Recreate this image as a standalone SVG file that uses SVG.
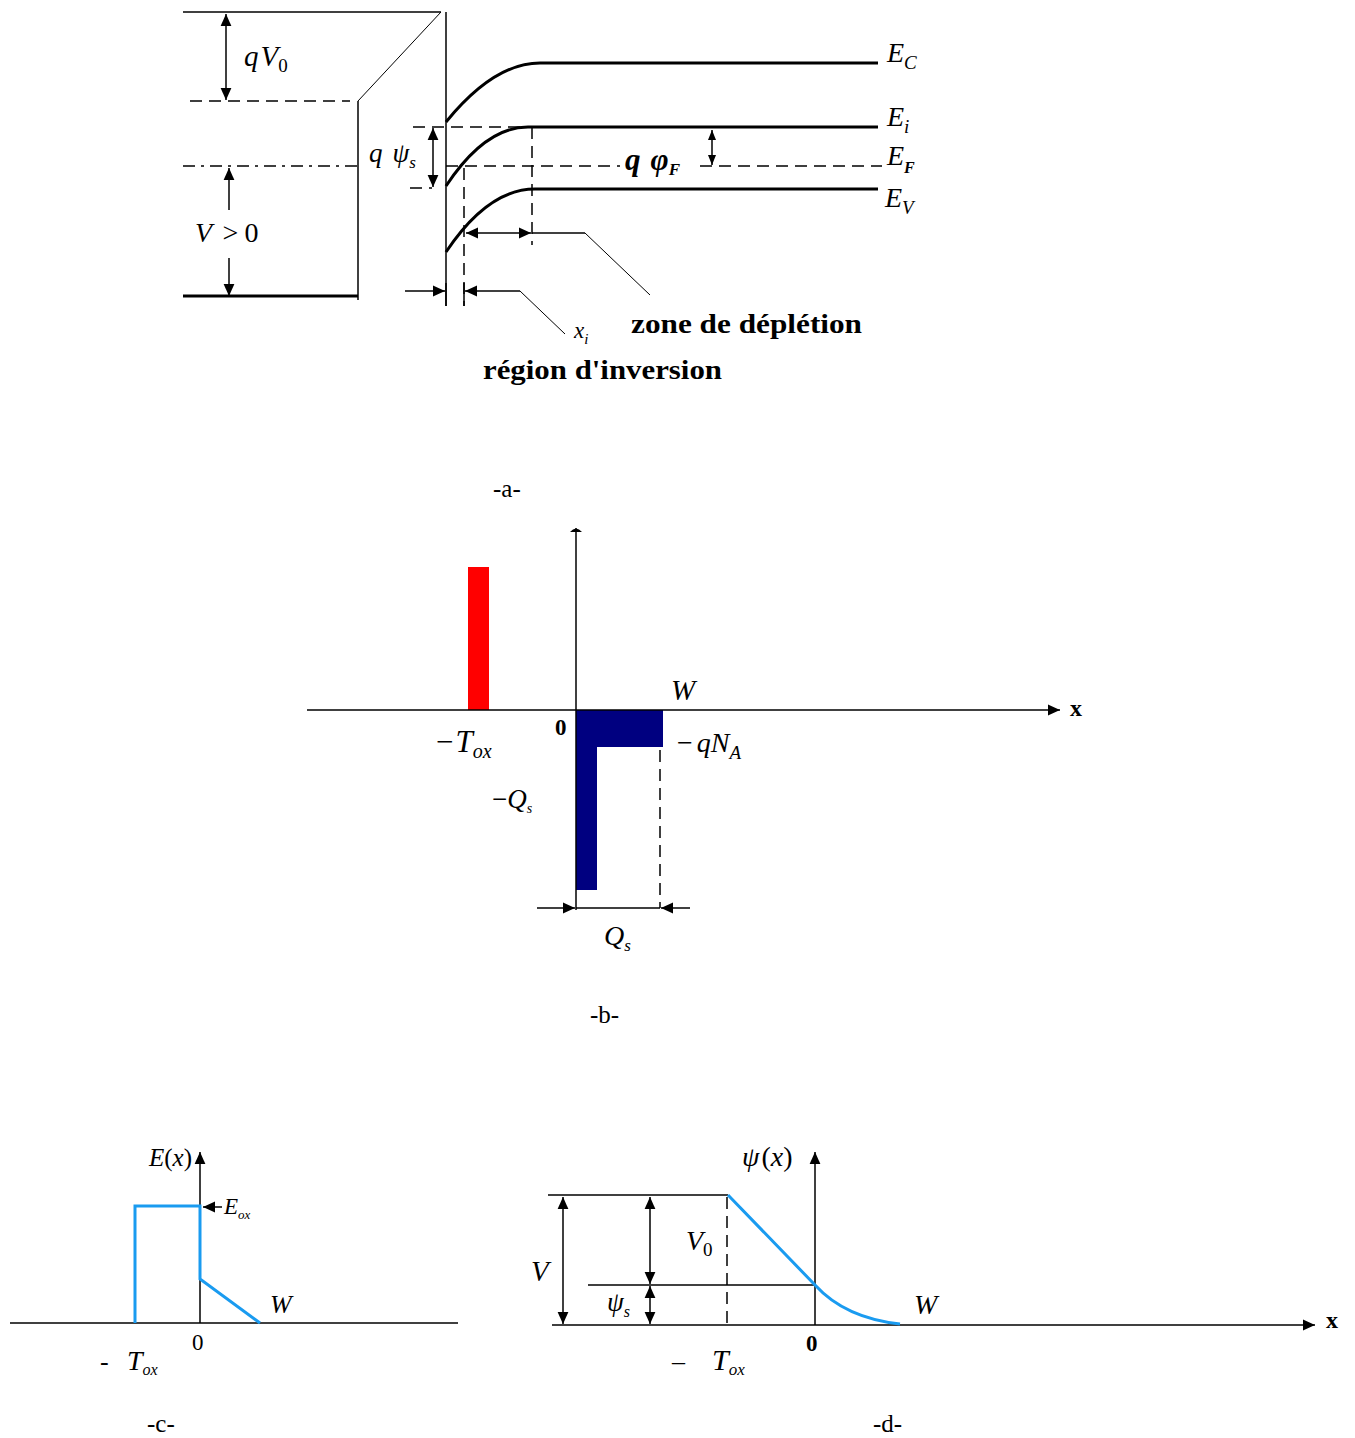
<svg xmlns="http://www.w3.org/2000/svg" width="1355" height="1438" viewBox="0 0 1355 1438">
<defs>
<marker id="ah" viewBox="0 0 10 10" refX="10" refY="5" markerWidth="10" markerHeight="10" markerUnits="userSpaceOnUse" orient="auto-start-reverse"><path d="M0,1 L10,5 L0,9 Z" fill="#000"/></marker>
<marker id="ahb" viewBox="0 0 10 10" refX="10" refY="5" markerWidth="14" markerHeight="12" markerUnits="userSpaceOnUse" orient="auto-start-reverse"><path d="M0,0.5 L10,5 L0,9.5 Z" fill="#000"/></marker>
<style>
.ln{stroke:#000;stroke-width:1.5;fill:none}
.thk{stroke:#000;stroke-width:3;fill:none}
.dash{stroke:#000;stroke-width:1.5;fill:none;stroke-dasharray:12 7}
.thin{stroke:#000;stroke-width:1;fill:none}
.blue{stroke:#1a9bf0;stroke-width:3;fill:none}
.it{font-family:"Liberation Serif",serif;font-style:italic;fill:#000}
.rm{font-family:"Liberation Serif",serif;fill:#000}
.bd{font-family:"Liberation Serif",serif;font-weight:bold;fill:#000}
.cap{font-family:"Liberation Serif",serif;font-size:25px;fill:#000}
</style>
</defs>
<rect width="1355" height="1438" fill="#fff"/>

<!-- Part a -->
<g id="part-a">
<g id="a-metal">
<line class="ln" x1="183" y1="12" x2="441" y2="12"/>
<line class="thk" x1="183" y1="296" x2="358" y2="296"/>
<line class="dash" x1="190" y1="101" x2="350" y2="101"/>
<line class="ln" x1="183" y1="166" x2="358" y2="166" stroke-dasharray="12 6 3 6"/>
</g>
<g id="a-oxide">
<line class="thin" x1="441" y1="12" x2="358" y2="101"/>
<line class="ln" x1="358" y1="101" x2="358" y2="300"/>
<line class="ln" x1="446" y1="12" x2="446" y2="306"/>
</g>
<g id="a-bands">
<path class="thk" d="M446,122 Q494,63 540,63 L878,63"/>
<path class="thk" d="M446,186 Q485,127 528,127 L878,127"/>
<path class="thk" d="M446,252 Q488,189 535,189 L878,189"/>
<line class="dash" x1="446" y1="166" x2="620" y2="166"/>
<line class="dash" x1="700" y1="166" x2="882" y2="166"/>
<line class="dash" x1="413" y1="127" x2="525" y2="127"/>
<line class="dash" x1="410" y1="188" x2="432" y2="188"/>
<line class="dash" x1="532" y1="127" x2="532" y2="245" stroke-dasharray="10 6"/>
<line class="dash" x1="464" y1="168" x2="464" y2="306" stroke-dasharray="10 6"/>
</g>
<g id="a-connectors">
<line class="ln" x1="226" y1="14" x2="226" y2="100" marker-start="url(#ahb)" marker-end="url(#ahb)"/>
<line class="ln" x1="229" y1="210" x2="229" y2="168" marker-end="url(#ahb)"/>
<line class="ln" x1="229" y1="258" x2="229" y2="296" marker-end="url(#ahb)"/>
<line class="ln" x1="433" y1="128" x2="433" y2="187" marker-start="url(#ahb)" marker-end="url(#ahb)"/>
<line class="ln" x1="712" y1="130" x2="712" y2="165" marker-start="url(#ah)" marker-end="url(#ah)"/>
<line class="ln" x1="466" y1="233" x2="531" y2="233" marker-start="url(#ahb)" marker-end="url(#ahb)"/>
<polyline class="ln" points="532,233 585,233"/>
<line class="thin" x1="585" y1="233" x2="650" y2="295"/>
<line class="ln" x1="405" y1="291" x2="445" y2="291" marker-end="url(#ahb)"/>
<line class="ln" x1="520" y1="291" x2="465" y2="291" marker-end="url(#ahb)"/>
<line class="ln" x1="446" y1="283" x2="446" y2="306"/>
<line class="ln" x1="464" y1="283" x2="464" y2="306"/>
<line class="thin" x1="520" y1="291" x2="565" y2="334"/>
</g>
<g id="a-labels">
<text class="it" x="244" y="66" font-size="29">q<tspan dx="2">V</tspan><tspan font-style="normal" font-size="19" dy="6">0</tspan></text>
<text class="it" x="195" y="242" font-size="28">V <tspan font-style="normal" dx="4">&gt;</tspan><tspan font-style="normal" dx="6">0</tspan></text>
<text class="it" x="369" y="162" font-size="27">q<tspan dx="10">ψ</tspan><tspan font-size="17" dy="6">s</tspan></text>
<text class="it" x="887" y="62" font-size="28">E<tspan font-size="19" dy="7">C</tspan></text>
<text class="it" x="887" y="126" font-size="28">E<tspan font-size="19" dy="7">i</tspan></text>
<text class="it" x="887" y="165" font-size="28">E<tspan font-size="16" font-weight="bold" dy="8">F</tspan></text>
<text class="it" x="885" y="207" font-size="28">E<tspan font-size="19" dy="7">V</tspan></text>
<text class="bd" x="625" y="170" font-size="31" font-style="italic">q<tspan dx="10">φ</tspan><tspan font-size="17" dy="5">F</tspan></text>
<text class="it" x="574" y="338" font-size="23">x<tspan font-size="15" dy="6">i</tspan></text>
<text class="bd" x="631" y="333" font-size="28" textLength="231" lengthAdjust="spacingAndGlyphs">zone de déplétion</text>
<text class="bd" x="483" y="379" font-size="28" textLength="239" lengthAdjust="spacingAndGlyphs">région d'inversion</text>
<text class="cap" x="493" y="497">-a-</text>
</g>
</g>

<!-- Part b -->
<g id="part-b">
<g id="b-charges">
<rect id="red-charge" x="468" y="567" width="21" height="143" fill="#ff0000"/>
<path id="navy-charge" d="M576,710 H663 V747 H597 V890 H576 Z" fill="#000080"/>
</g>
<g id="b-axes">
<line class="ln" x1="307" y1="710" x2="1060" y2="710" marker-end="url(#ahb)"/>
<line class="ln" x1="576" y1="910" x2="576" y2="528"/>
<path d="M570,532 Q576,525 582,532 Z" fill="#000"/>
<line class="dash" x1="660" y1="750" x2="660" y2="908" stroke-dasharray="11 7"/>
<line class="ln" x1="537" y1="908" x2="575" y2="908" marker-end="url(#ahb)"/>
<line class="ln" x1="690" y1="908" x2="661" y2="908" marker-end="url(#ahb)"/>
<line class="ln" x1="576" y1="908" x2="660" y2="908"/>
</g>
<g id="b-labels">
<text class="it" x="671" y="700" font-size="29">W</text>
<text class="bd" x="1070" y="716" font-size="24">x</text>
<text class="bd" x="555" y="735" font-size="23">0</text>
<text class="it" x="436" y="752" font-size="31"><tspan font-style="normal">−</tspan><tspan dx="2">T</tspan><tspan font-size="20" dy="6">ox</tspan></text>
<text class="it" x="677" y="752" font-size="28"><tspan font-style="normal">−</tspan><tspan dx="4">qN</tspan><tspan font-size="19" dy="7">A</tspan></text>
<text class="it" x="492" y="808" font-size="27"><tspan font-style="normal">−</tspan>Q<tspan font-size="14" dy="5">s</tspan></text>
<text class="it" x="604" y="945" font-size="28">Q<tspan font-size="17" dy="6">s</tspan></text>
<text class="cap" x="590" y="1023">-b-</text>
</g>
</g>

<!-- Part c -->
<g id="part-c">
<line class="ln" x1="10" y1="1323" x2="458" y2="1323"/>
<line class="ln" x1="200" y1="1323" x2="200" y2="1152" marker-end="url(#ahb)"/>
<path class="blue" d="M135,1323 V1206 H200 V1279 L260,1323"/>
<line class="ln" x1="222" y1="1207" x2="203" y2="1207" marker-end="url(#ahb)"/>
<text class="it" x="149" y="1166" font-size="25">E<tspan font-style="normal">(</tspan>x<tspan font-style="normal">)</tspan></text>
<text class="it" x="224" y="1214" font-size="23">E<tspan font-size="13" dy="5">ox</tspan></text>
<text class="it" x="270" y="1313" font-size="26">W</text>
<text class="rm" x="192" y="1350" font-size="23">0</text>
<text class="rm" x="100" y="1370" font-size="26">-</text>
<text class="it" x="127" y="1370" font-size="28">T<tspan font-size="16" dy="5">ox</tspan></text>
<text class="cap" x="147" y="1432">-c-</text>
</g>

<!-- Part d -->
<g id="part-d">
<line class="ln" x1="552" y1="1325" x2="1315" y2="1325" marker-end="url(#ahb)"/>
<line class="ln" x1="815" y1="1325" x2="815" y2="1152" marker-end="url(#ahb)"/>
<line class="ln" x1="548" y1="1195" x2="728" y2="1195"/>
<line class="ln" x1="588" y1="1285" x2="815" y2="1285"/>
<line class="dash" x1="727" y1="1197" x2="727" y2="1325" stroke-dasharray="12 6"/>
<path class="blue" d="M728,1195 L815,1285 Q845,1318 900,1324"/>
<line class="ln" x1="563" y1="1197" x2="563" y2="1324" marker-start="url(#ahb)" marker-end="url(#ahb)"/>
<line class="ln" x1="650" y1="1197" x2="650" y2="1284" marker-start="url(#ahb)" marker-end="url(#ahb)"/>
<line class="ln" x1="650" y1="1286" x2="650" y2="1324" marker-start="url(#ahb)" marker-end="url(#ahb)"/>
<text class="it" x="742" y="1166" font-size="28">ψ<tspan font-style="normal" dx="2">(</tspan>x<tspan font-style="normal">)</tspan></text>
<text class="it" x="531" y="1281" font-size="29">V</text>
<text class="it" x="686" y="1250" font-size="28">V<tspan font-style="normal" font-size="19" dy="6">0</tspan></text>
<text class="it" x="607" y="1311" font-size="27">ψ<tspan font-size="16" dy="6">s</tspan></text>
<text class="it" x="914" y="1314" font-size="28">W</text>
<text class="bd" x="806" y="1351" font-size="23">0</text>
<text class="bd" x="1326" y="1328" font-size="24">x</text>
<text class="rm" x="672" y="1370" font-size="26">–</text>
<text class="it" x="712" y="1370" font-size="30">T<tspan font-size="17" dy="5">ox</tspan></text>
<text class="cap" x="873" y="1432">-d-</text>
</g>
</svg>
